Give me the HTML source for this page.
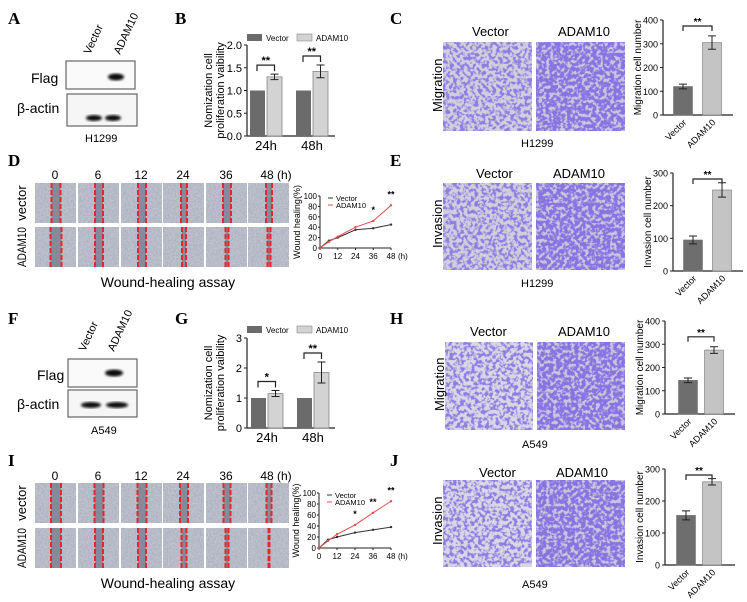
<!DOCTYPE html>
<html><head><meta charset="utf-8">
<style>
html,body{margin:0;padding:0;background:#fff;}
svg{display:block;font-family:"Liberation Sans",Arial,sans-serif;}
.pl{font-family:"Liberation Serif",serif;font-weight:bold;font-size:17px;}
</style></head>
<body>
<svg id="fig" width="747" height="602" viewBox="0 0 747 602" xmlns="http://www.w3.org/2000/svg">
<defs>
<filter id="wound" x="0" y="0" width="1" height="1">
  <feTurbulence type="fractalNoise" baseFrequency="0.6" numOctaves="2" seed="3"/>
  <feColorMatrix type="matrix" values="0.3 0 0 0 0.38  0.3 0 0 0 0.41  0.3 0 0 0 0.48  0 0 0 0 1"/>
</filter>
<filter id="cellsLo" x="0" y="0" width="1" height="1">
  <feTurbulence type="fractalNoise" baseFrequency="0.28" numOctaves="2" seed="7"/>
  <feColorMatrix type="matrix" values="0 0 0 0 0.28  0 0 0 0 0.2  0 0 0 0 0.78  6 0 0 0 -2.7"/>
</filter>
<filter id="cellsHi" x="0" y="0" width="1" height="1">
  <feTurbulence type="fractalNoise" baseFrequency="0.28" numOctaves="2" seed="11"/>
  <feColorMatrix type="matrix" values="0 0 0 0 0.25  0 0 0 0 0.17  0 0 0 0 0.76  6 0 0 0 -2.2"/>
</filter>
<filter id="blur1"><feGaussianBlur stdDeviation="1.3"/></filter>
</defs>

<text class="pl" x="8" y="24">A</text>
<text class="pl" x="175" y="24">B</text>
<text class="pl" x="390" y="24">C</text>
<text class="pl" x="8" y="166">D</text>
<text class="pl" x="390" y="166">E</text>
<text class="pl" x="8" y="324">F</text>
<text class="pl" x="175" y="324">G</text>
<text class="pl" x="390" y="324">H</text>
<text class="pl" x="8" y="466">I</text>
<text class="pl" x="390" y="466">J</text>

<g font-size="12">
  <text transform="translate(90,55) rotate(-65)" font-size="11">Vector</text>
  <text transform="translate(120,55) rotate(-65)" font-size="11">ADAM10</text>
  <rect x="66" y="61" width="69" height="28" fill="#fafafa" stroke="#666" stroke-width="1.2"/>
  <rect x="67" y="94" width="70" height="32" fill="#f6f6f6" stroke="#666" stroke-width="1.2"/>
  <ellipse cx="116" cy="77" rx="8" ry="3.5" fill="#111" filter="url(#blur1)"/>
  <ellipse cx="94" cy="118" rx="8" ry="3" fill="#111" filter="url(#blur1)"/>
  <ellipse cx="113" cy="118" rx="8" ry="3" fill="#111" filter="url(#blur1)"/>
  <text x="31" y="83" font-size="14">Flag</text>
  <text x="17" y="113" font-size="14">β-actin</text>
  <text x="85" y="142" font-size="11">H1299</text>
</g>
<g>
  <text transform="translate(85,352) rotate(-65)" font-size="11">Vector</text>
  <text transform="translate(114,352) rotate(-65)" font-size="11">ADAM10</text>
  <rect x="68" y="359" width="69" height="28" fill="#fafafa" stroke="#666" stroke-width="1.2"/>
  <rect x="68" y="390" width="69" height="27" fill="#f6f6f6" stroke="#666" stroke-width="1.2"/>
  <ellipse cx="114" cy="373" rx="9" ry="3.5" fill="#111" filter="url(#blur1)"/>
  <ellipse cx="91" cy="405" rx="10" ry="3" fill="#111" filter="url(#blur1)"/>
  <ellipse cx="117" cy="405" rx="11" ry="3" fill="#111" filter="url(#blur1)"/>
  <text x="37" y="380" font-size="14">Flag</text>
  <text x="17" y="409" font-size="14">β-actin</text>
  <text x="91" y="434" font-size="11">A549</text>
</g>

<g>
  <text x="472" y="36" font-size="13">Vector</text>
  <text x="558" y="36" font-size="13">ADAM10</text>
  <rect x="443" y="42" width="89" height="89" fill="#d0d0dc"/><rect x="443" y="42" width="89" height="89" filter="url(#cellsLo)"/>
  <rect x="536" y="42" width="89" height="89" fill="#c8c8dc"/><rect x="536" y="42" width="89" height="89" filter="url(#cellsHi)"/>
  <text transform="translate(442,112) rotate(-90)" font-size="13">Migration</text>
  <text x="521" y="147" font-size="11">H1299</text>
</g>
<g>
  <text x="476" y="178" font-size="13">Vector</text>
  <text x="553" y="178" font-size="13">ADAM10</text>
  <rect x="443" y="183" width="89" height="87" fill="#d0d0dc"/><rect x="443" y="183" width="89" height="87" filter="url(#cellsLo)"/>
  <rect x="536" y="183" width="89" height="87" fill="#c8c8dc"/><rect x="536" y="183" width="89" height="87" filter="url(#cellsHi)"/>
  <text transform="translate(442,248) rotate(-90)" font-size="13">Invasion</text>
  <text x="521" y="287" font-size="11">H1299</text>
</g>
<g>
  <text x="470" y="336" font-size="13">Vector</text>
  <text x="558" y="336" font-size="13">ADAM10</text>
  <rect x="445" y="342" width="88" height="88" fill="#d8d8e4"/><rect x="445" y="342" width="88" height="88" filter="url(#cellsLo)"/>
  <rect x="537" y="342" width="88" height="88" fill="#c8c8dc"/><rect x="537" y="342" width="88" height="88" filter="url(#cellsHi)"/>
  <text transform="translate(444,411) rotate(-90)" font-size="13">Migration</text>
  <text x="522" y="448" font-size="11">A549</text>
</g>
<g>
  <text x="479" y="477" font-size="13">Vector</text>
  <text x="556" y="477" font-size="13">ADAM10</text>
  <rect x="443" y="480" width="89" height="87" fill="#d8d8e4"/><rect x="443" y="480" width="89" height="87" filter="url(#cellsLo)"/>
  <rect x="536" y="480" width="89" height="87" fill="#c8c8dc"/><rect x="536" y="480" width="89" height="87" filter="url(#cellsHi)"/>
  <text transform="translate(442,545) rotate(-90)" font-size="13">Invasion</text>
  <text x="522" y="588" font-size="11">A549</text>
</g>

<g id="woundD"></g>
<g id="woundI"></g>
<g id="charts"></g>
</svg>

<script>
// ---- chart data ----
const groupCats = ['24h', '48h'];
const bVector = [1.0, 1.0];
const bAdam = [1.30, 1.42];
const bAdamErr = [0.06, 0.14];
const bTicks = ['0.0', '0.5', '1.0', '1.5', '2.0'];
const gVector = [1.0, 1.0];
const gAdam = [1.15, 1.85];
const gAdamErr = [0.10, 0.35];
const gTicks = ['0', '1', '2', '3'];
const twoCats = ['Vector', 'ADAM10'];
const cValues = [120, 305];
const cErr = [10, 28];
const eValues = [95, 248];
const eErr = [12, 22];
const hValues = [145, 275];
const hErr = [10, 14];
const jValues = [155, 260];
const jErr = [14, 10];
const countTicks400 = ['0', '100', '200', '300', '400'];
const countTicks300 = ['0', '100', '200', '300'];
const hours = [0, 6, 12, 24, 36, 48];
const dVector = [0, 14, 20, 35, 38, 45];
const dAdam = [0, 12, 22, 40, 52, 82];
const iVector = [0, 15, 20, 28, 33, 38];
const iAdam = [0, 13, 25, 42, 64, 85];
const lineTicksX = ['0', '12', '24', '36', '48'];
const lineTicksY = ['0', '20', '40', '60', '80', '100'];
const woundTimes = ['0', '6', '12', '24', '36', '48 (h)'];

const NS = 'http://www.w3.org/2000/svg';
const root = document.getElementById('charts');
function mk(tag, attrs, parent) {
  const e = document.createElementNS(NS, tag);
  for (const k in attrs) e.setAttribute(k, attrs[k]);
  (parent || root).appendChild(e);
  return e;
}
function txt(s, attrs, parent) { const t = mk('text', attrs, parent); t.textContent = s; return t; }

function grouped(o) {
  const g = mk('g', {});
  
  
  const max = parseFloat(o.ticks[o.ticks.length - 1]);
  const Y = v => o.y0 - (o.y0 - o.y1) * v / max;
  mk('line', {x1: o.ax, y1: o.y1, x2: o.ax, y2: o.y0, stroke: '#222', 'stroke-width': 1.2}, g);
  mk('line', {x1: o.ax, y1: o.y0, x2: o.ax + 88, y2: o.y0, stroke: '#222', 'stroke-width': 1.2}, g);
  o.ticks.forEach(t => {
    const y = Y(parseFloat(t));
    mk('line', {x1: o.ax - 3, y1: y, x2: o.ax, y2: y, stroke: '#222'}, g);
    const tl = txt(t, {x: o.ax - 5, y: y + 4, 'font-size': 11, 'text-anchor': 'end'}, g);
    
    
  });
  groupCats.forEach((c, i) => {
    const cx = o.centers[i];
    const b1 = mk('rect', {x: cx - 16, y: Y(o.vec[i]), width: 15, height: o.y0 - Y(o.vec[i]), fill: '#6b6b6b'}, g);
    
    
    const b2 = mk('rect', {x: cx + 1, y: Y(o.adam[i]), width: 15, height: o.y0 - Y(o.adam[i]), fill: '#d3d3d3', stroke: '#888', 'stroke-width': 0.8}, g);
    
    
    const ex = cx + 8.5, hi = Y(o.adam[i] + o.err[i]), lo = Y(o.adam[i] - o.err[i]);
    mk('path', {d: `M${ex},${hi}V${lo}M${ex-4},${hi}H${ex+4}M${ex-4},${lo}H${ex+4}`, stroke: '#222', fill: 'none'}, g);
    const by = Y(o.adam[i] + o.err[i]) - 9;
    mk('path', {d: `M${cx-9},${by+6}V${by}H${ex}V${by+6}`, stroke: '#222', fill: 'none', 'stroke-width': 1.2}, g);
    txt(o.sig[i], {x: (cx - 9 + ex) / 2, y: by - 1, 'font-size': 11, 'text-anchor': 'middle', 'font-weight': 'bold'}, g);
    const xl = txt(c, {x: cx, y: o.y0 + 14, 'font-size': 13, 'text-anchor': 'middle'}, g);
    
    
  });
  mk('rect', {x: o.ax, y: o.legY - 7, width: 15, height: 7, fill: '#6b6b6b'}, g);
  txt('Vector', {x: o.ax + 19, y: o.legY, 'font-size': 8}, g);
  mk('rect', {x: o.ax + 50, y: o.legY - 7, width: 15, height: 7, fill: '#d3d3d3', stroke: '#888', 'stroke-width': 0.6}, g);
  txt('ADAM10', {x: o.ax + 69, y: o.legY, 'font-size': 8}, g);
  const yt = txt('Nomization cell', {transform: `translate(${o.ax - 35},${(o.y0 + o.y1) / 2}) rotate(-90)`, 'font-size': 11, 'text-anchor': 'middle'}, g);
  
  
  txt('proliferation vaibility', {transform: `translate(${o.ax - 23},${(o.y0 + o.y1) / 2}) rotate(-90)`, 'font-size': 11, 'text-anchor': 'middle'}, g);
}

function twoBar(o) {
  const g = mk('g', {});
  
  
  const max = parseFloat(o.ticks[o.ticks.length - 1]);
  const Y = v => o.y0 - (o.y0 - o.y1) * v / max;
  mk('line', {x1: o.ax, y1: o.y1, x2: o.ax, y2: o.y0, stroke: '#222', 'stroke-width': 1.2}, g);
  mk('line', {x1: o.ax, y1: o.y0, x2: o.ax + 70, y2: o.y0, stroke: '#222', 'stroke-width': 1.2}, g);
  o.ticks.forEach(t => {
    const y = Y(parseFloat(t));
    mk('line', {x1: o.ax - 3, y1: y, x2: o.ax, y2: y, stroke: '#222'}, g);
    const tl = txt(t, {x: o.ax - 5, y: y + 3.5, 'font-size': 9, 'text-anchor': 'end'}, g);
    
    
  });
  const cols = ['#6e6e6e', '#c4c4c4'];
  twoCats.forEach((c, i) => {
    const cx = o.centers[i];
    const b = mk('rect', {x: cx - 9.5, y: Y(o.vals[i]), width: 19, height: o.y0 - Y(o.vals[i]), fill: cols[i], stroke: '#777', 'stroke-width': 0.6}, g);
    
    
    const hi = Y(o.vals[i] + o.err[i]), lo = Y(o.vals[i] - o.err[i]);
    mk('path', {d: `M${cx},${hi}V${lo}M${cx-4},${hi}H${cx+4}M${cx-4},${lo}H${cx+4}`, stroke: '#222', fill: 'none'}, g);
    const xl = txt(c, {transform: `translate(${cx + 4},${o.y0 + 8}) rotate(-45)`, 'font-size': 9, 'text-anchor': 'end'}, g);
    
    
  });
  const top = Y(Math.max(o.vals[0] + o.err[0], o.vals[1] + o.err[1])) - 10;
  const by = Math.max(top, o.y1 + 6);
  mk('path', {d: `M${o.centers[0]},${by+5}V${by}H${o.centers[1]}V${by+5}`, stroke: '#222', fill: 'none', 'stroke-width': 1.2}, g);
  txt('**', {x: (o.centers[0] + o.centers[1]) / 2, y: by - 1, 'font-size': 10, 'text-anchor': 'middle', 'font-weight': 'bold'}, g);
  const yt = txt(o.ytitle, {transform: `translate(${o.ax - 22},${(o.y0 + o.y1) / 2}) rotate(-90)`, 'font-size': 10, 'text-anchor': 'middle'}, g);
  
  
}

function lineChart(o) {
  const g = mk('g', {});
  
  
  const X = h => o.ax + (o.x48 - o.ax) * h / 48;
  const Y = v => o.y0 - (o.y0 - o.y1) * v / 100;
  mk('line', {x1: o.ax, y1: o.y1, x2: o.ax, y2: o.y0, stroke: '#222'}, g);
  mk('line', {x1: o.ax, y1: o.y0, x2: o.x48, y2: o.y0, stroke: '#222'}, g);
  lineTicksY.forEach(t => {
    const y = Y(+t);
    mk('line', {x1: o.ax - 2, y1: y, x2: o.ax, y2: y, stroke: '#222'}, g);
    const tl = txt(t, {x: o.ax - 3, y: y + 3, 'font-size': 8, 'text-anchor': 'end'}, g);
    
    
  });
  lineTicksX.forEach(t => {
    const x = X(+t);
    mk('line', {x1: x, y1: o.y0, x2: x, y2: o.y0 + 2, stroke: '#222'}, g);
    const tl = txt(t, {x: x, y: o.y0 + 11, 'font-size': 8, 'text-anchor': 'middle'}, g);
    
    
  });
  txt('(h)', {x: o.x48 + 7, y: o.y0 + 11, 'font-size': 8}, g);
  [[o.vec, '#333', 'line-vector'], [o.adam, '#e05050', 'line-adam10']].forEach(([vals, col, nm]) => {
    const d = vals.map((v, i) => (i ? 'L' : 'M') + X(hours[i]) + ',' + Y(v)).join('');
    const p = mk('path', {d: d, stroke: col, fill: 'none', 'stroke-width': 1}, g);
    
    
    vals.forEach((v, i) => {
      const c = mk('circle', {cx: X(hours[i]), cy: Y(v), r: 1.2, fill: col}, g);
      
      
    });
  });
  o.stars.forEach((s, i) => { if (s) txt(s, {x: X(hours[i]), y: Y(o.adam[i]) - 8, 'font-size': 9, 'text-anchor': 'middle', 'font-weight': 'bold'}, g); });
  mk('line', {x1: o.ax + 8, y1: o.y1 + 2, x2: o.ax + 13, y2: o.y1 + 2, stroke: '#333'}, g);
  txt('Vector', {x: o.ax + 16, y: o.y1 + 5, 'font-size': 7.5}, g);
  mk('line', {x1: o.ax + 8, y1: o.y1 + 9, x2: o.ax + 13, y2: o.y1 + 9, stroke: '#e05050'}, g);
  txt('ADAM10', {x: o.ax + 16, y: o.y1 + 12, 'font-size': 7.5}, g);
  const yt = txt('Wound healing(%)', {transform: `translate(${o.ax - 20},${(o.y0 + o.y1) / 2}) rotate(-90)`, 'font-size': 9, 'text-anchor': 'middle'}, g);
  
  
}

grouped({name: 'chart-b-proliferation-h1299', ax: 247, y0: 136, y1: 45, ticks: bTicks, centers: [266, 312], vec: bVector, adam: bAdam, err: bAdamErr, sig: ['**', '**'], legY: 41});
grouped({name: 'chart-g-proliferation-a549', ax: 247, y0: 428, y1: 338, ticks: gTicks, centers: [267, 313], vec: gVector, adam: gAdam, err: gAdamErr, sig: ['*', '**'], legY: 333});
twoBar({name: 'chart-c-migration-h1299', ax: 663, y0: 115, y1: 20, ticks: countTicks400, centers: [683, 712], vals: cValues, err: cErr, ytitle: 'Migration cell number'});
twoBar({name: 'chart-e-invasion-h1299', ax: 673, y0: 271, y1: 173, ticks: countTicks300, centers: [693, 722], vals: eValues, err: eErr, ytitle: 'Invasion cell number'});
twoBar({name: 'chart-h-migration-a549', ax: 665, y0: 414, y1: 321, ticks: countTicks400, centers: [688, 714], vals: hValues, err: hErr, ytitle: 'Migration cell number'});
twoBar({name: 'chart-j-invasion-a549', ax: 665, y0: 565, y1: 469, ticks: countTicks300, centers: [686, 712], vals: jValues, err: jErr, ytitle: 'Invasion cell number'});
lineChart({name: 'chart-d-wound-h1299', ax: 320, x48: 391, y0: 248, y1: 196, vec: dVector, adam: dAdam, stars: ['', '', '', '', '*', '**']});
lineChart({name: 'chart-i-wound-a549', ax: 319, x48: 391, y0: 548, y1: 493, vec: iVector, adam: iAdam, stars: ['', '', '', '*', '**', '**']});

function woundGrid(gid, rowYs, labY, titleY, gaps) {
  const g = document.getElementById(gid);
  const colX = [35, 78, 121, 163, 206, 248];
  woundTimes.forEach((t, i) => {
    const tl = txt(t, {x: colX[i] + 20 + (i === 5 ? 8 : 0), y: labY, 'font-size': 12, 'text-anchor': 'middle'}, g);
    
    
  });
  rowYs.forEach((ry, r) => {
    colX.forEach((cx, i) => {
      mk('rect', {x: cx, y: ry, width: 41, height: 40, fill: '#80869a'}, g);
      mk('rect', {x: cx, y: ry, width: 41, height: 40, filter: 'url(#wound)', opacity: 0.85}, g);
      const gw = gaps[r][i];
      const mid = cx + 21;
      mk('rect', {x: mid - gw / 2, y: ry, width: gw, height: 40, fill: '#4a4f60', opacity: 0.45}, g);
      [mid - gw / 2, mid + gw / 2].forEach(lx => mk('line', {x1: lx, y1: ry, x2: lx, y2: ry + 40, stroke: '#e8252a', 'stroke-width': 2, 'stroke-dasharray': '5,2'}, g));
    });
  });
  const v = txt('vector', {transform: `translate(26,${rowYs[0] + 20}) rotate(-90)`, 'font-size': 13, 'text-anchor': 'middle'}, g);
  
  
  const a = txt('ADAM10', {transform: `translate(26,${rowYs[1] + 20}) rotate(-90)`, 'font-size': 12, 'text-anchor': 'middle', textLength: 40, lengthAdjust: 'spacingAndGlyphs'}, g);
  
  
  const tt = txt('Wound-healing assay', {x: 168, y: titleY, 'font-size': 14, 'text-anchor': 'middle'}, g);
  
  
}
woundGrid('woundD', [183, 227], 179, 287, [[9, 8, 8, 6, 8, 6], [11, 8, 8, 4, 3, 3]]);
woundGrid('woundI', [483, 528], 480, 588, [[10, 9, 9, 8, 7, 5], [10, 8, 8, 5, 3, 1]]);
</script>
</body></html>
